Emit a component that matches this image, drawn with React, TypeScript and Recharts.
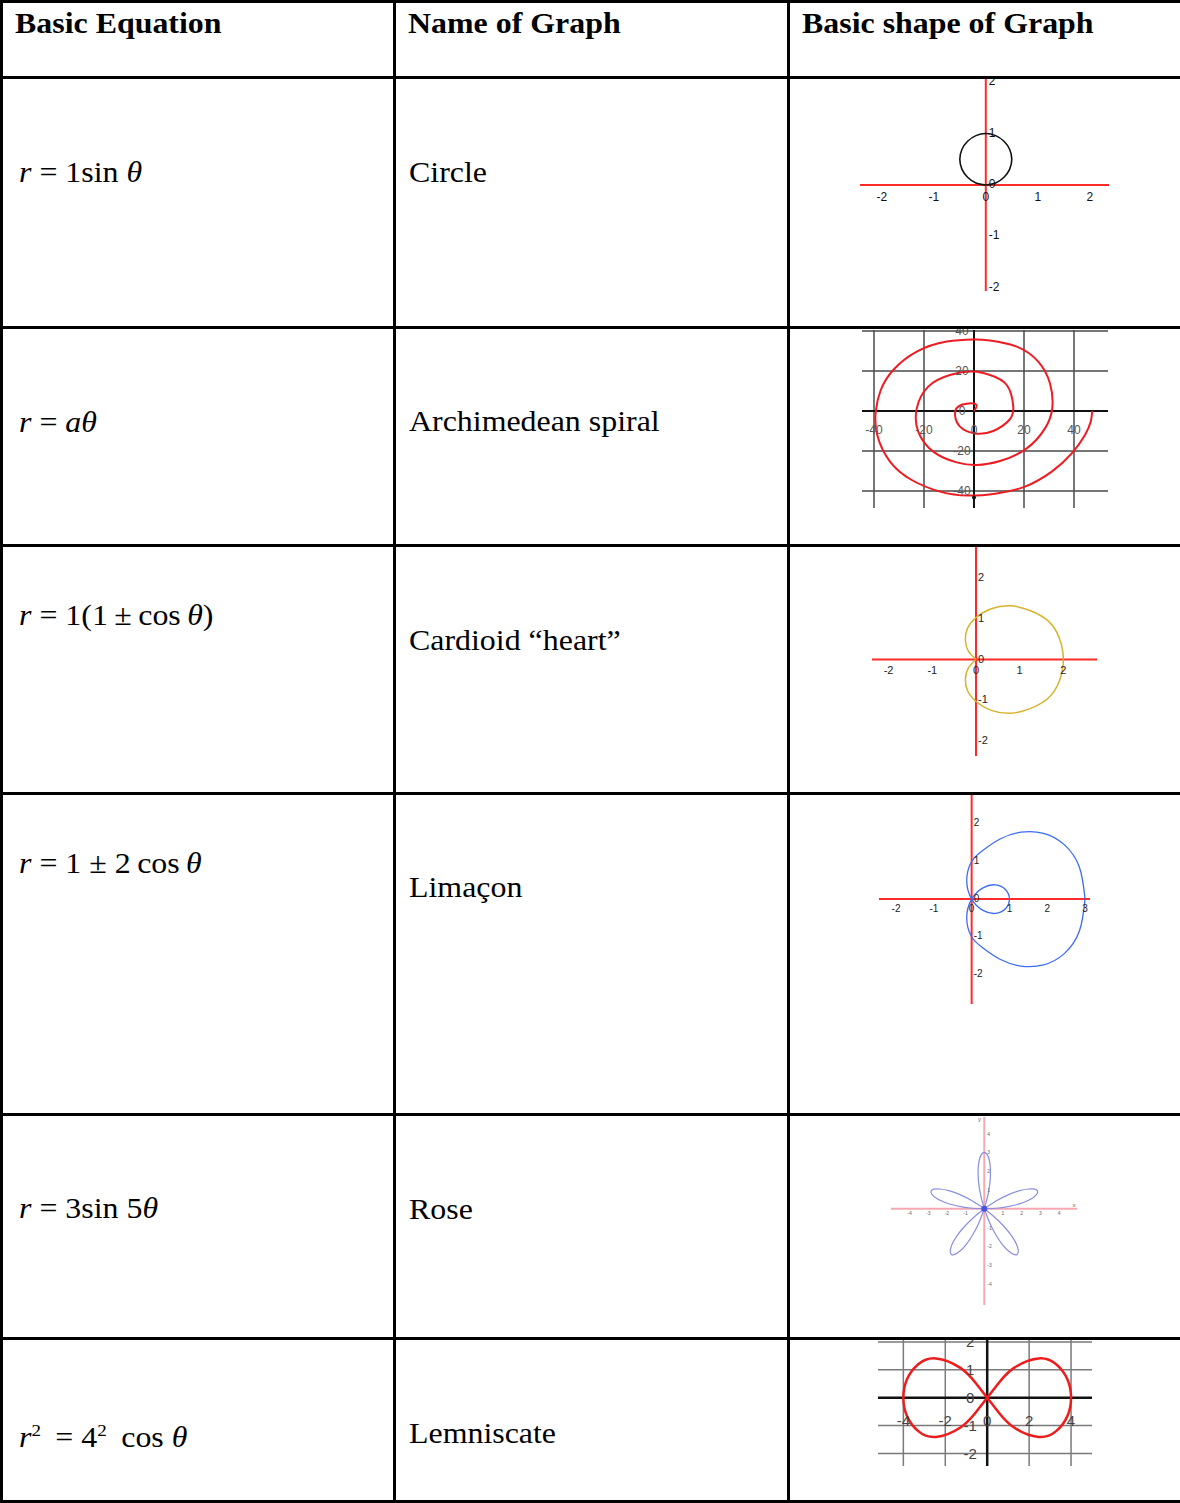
import React from 'react'
import { ComposedChart, Line, Scatter, XAxis, YAxis, ReferenceLine, ReferenceDot } from 'recharts'

// ---- table text ----
const headers = ['Basic Equation', 'Name of Graph', 'Basic shape of Graph']
const equations = [
  'r = 1sin θ',
  'r = aθ',
  'r = 1(1\u2009±\u2009cos\u2009θ)',
  'r = 1 ± 2\u2009cos\u2009θ',
  'r = 3sin 5θ',
  'r^2\u2009 = 4^2\u2009 cos θ',
]
const graphNames = ['Circle', 'Archimedean spiral', 'Cardioid “heart”', 'Limaçon', 'Rose', 'Lemniscate']

// ---- curves (x, y in plot units) ----
const circlePts = [
  { x: 0, y: 0 }, { x: 0.19, y: 0.04 }, { x: 0.35, y: 0.15 }, { x: 0.46, y: 0.31 }, { x: 0.5, y: 0.5 },
  { x: 0.46, y: 0.69 }, { x: 0.35, y: 0.85 }, { x: 0.19, y: 0.96 }, { x: 0, y: 1 }, { x: -0.19, y: 0.96 },
  { x: -0.35, y: 0.85 }, { x: -0.46, y: 0.69 }, { x: -0.5, y: 0.5 }, { x: -0.46, y: 0.31 }, { x: -0.35, y: 0.15 },
  { x: -0.19, y: 0.04 }, { x: 0, y: 0 },
]

const spiralPts = [
  { x: 0, y: 0 }, { x: 1, y: 3 }, { x: -2.3, y: 3.8 }, { x: -6.3, y: 2.2 }, { x: -7.6, y: -1.7 },
  { x: -5.6, y: -7.8 }, { x: 0.4, y: -11.2 }, { x: 7.7, y: -10 }, { x: 14.1, y: -4.5 }, { x: 15.7, y: 2.2 },
  { x: 13.1, y: 13 }, { x: 6.4, y: 18 }, { x: -0.3, y: 19.7 }, { x: -9.6, y: 18 }, { x: -18.3, y: 12.2 },
  { x: -22.9, y: 1.3 }, { x: -22.3, y: -10.3 }, { x: -16.3, y: -20.3 }, { x: -6.9, y: -25.7 }, { x: 1.1, y: -27 },
  { x: 10.4, y: -25 }, { x: 21.1, y: -18.7 }, { x: 28.4, y: -8.7 }, { x: 31.3, y: 1.3 }, { x: 30.4, y: 13.8 },
  { x: 25.7, y: 24.7 }, { x: 17.1, y: 32.2 }, { x: 6.4, y: 35.3 }, { x: -0.3, y: 35.8 }, { x: -10.9, y: 34.7 },
  { x: -22.9, y: 29.7 }, { x: -32.3, y: 20.5 }, { x: -37.3, y: 10.5 }, { x: -39.3, y: -0.3 }, { x: -38.7, y: -12 },
  { x: -33.6, y: -25.3 }, { x: -24.9, y: -34.5 }, { x: -13.6, y: -40.3 }, { x: -2.3, y: -42.3 }, { x: 9.1, y: -41.2 },
  { x: 20.4, y: -37.8 }, { x: 31.1, y: -30.3 }, { x: 39.1, y: -21.2 }, { x: 44.4, y: -12 }, { x: 46.7, y: -5.3 },
  { x: 47.3, y: 0 },
]

const cardioidPts = [
  { x: 0, y: 0 }, { x: -0.17, y: 0.2 }, { x: -0.24, y: 0.45 }, { x: -0.2, y: 0.75 }, { x: 0, y: 1.03 },
  { x: 0.35, y: 1.25 }, { x: 0.8, y: 1.32 }, { x: 1.25, y: 1.2 }, { x: 1.65, y: 0.95 }, { x: 1.9, y: 0.55 },
  { x: 2, y: 0 }, { x: 1.9, y: -0.55 }, { x: 1.65, y: -0.95 }, { x: 1.25, y: -1.2 }, { x: 0.8, y: -1.32 },
  { x: 0.35, y: -1.25 }, { x: 0, y: -1.03 }, { x: -0.2, y: -0.75 }, { x: -0.24, y: -0.45 }, { x: -0.17, y: -0.2 },
  { x: 0, y: 0 },
]

const limaconPts = [
  { x: 3, y: 0 }, { x: 2.85, y: 0.85 }, { x: 2.45, y: 1.45 }, { x: 1.9, y: 1.75 }, { x: 1.3, y: 1.78 },
  { x: 0.75, y: 1.6 }, { x: 0.3, y: 1.3 }, { x: 0, y: 1 }, { x: -0.13, y: 0.5 }, { x: 0, y: 0 },
  { x: 0.3, y: -0.3 }, { x: 0.63, y: -0.38 }, { x: 0.9, y: -0.25 }, { x: 1, y: 0 }, { x: 0.9, y: 0.25 },
  { x: 0.63, y: 0.38 }, { x: 0.3, y: 0.3 }, { x: 0, y: 0 }, { x: -0.13, y: -0.5 }, { x: 0, y: -1 },
  { x: 0.3, y: -1.3 }, { x: 0.75, y: -1.6 }, { x: 1.3, y: -1.78 }, { x: 1.9, y: -1.75 }, { x: 2.45, y: -1.45 },
  { x: 2.85, y: -0.85 }, { x: 3, y: 0 },
]

const rosePetalTop = [
  { x: 0, y: 0 }, { x: -0.2, y: 0.75 }, { x: -0.31, y: 1.47 }, { x: -0.33, y: 2.09 }, { x: -0.27, y: 2.58 },
  { x: -0.15, y: 2.89 }, { x: 0, y: 3 }, { x: 0.15, y: 2.89 }, { x: 0.27, y: 2.58 }, { x: 0.33, y: 2.09 },
  { x: 0.31, y: 1.47 }, { x: 0.2, y: 0.75 }, { x: 0, y: 0 },
]
const rosePetalRight = [
  { x: 0, y: 0 }, { x: 0.65, y: 0.42 }, { x: 1.3, y: 0.75 }, { x: 1.89, y: 0.96 }, { x: 2.37, y: 1.05 },
  { x: 2.7, y: 1.04 }, { x: 2.85, y: 0.93 }, { x: 2.79, y: 0.75 }, { x: 2.54, y: 0.54 }, { x: 2.09, y: 0.33 },
  { x: 1.49, y: 0.16 }, { x: 0.78, y: 0.04 }, { x: 0, y: 0 },
]
const rosePetalLeft = [
  { x: 0, y: 0 }, { x: -0.65, y: 0.42 }, { x: -1.3, y: 0.75 }, { x: -1.89, y: 0.96 }, { x: -2.37, y: 1.05 },
  { x: -2.7, y: 1.04 }, { x: -2.85, y: 0.93 }, { x: -2.79, y: 0.75 }, { x: -2.54, y: 0.54 }, { x: -2.09, y: 0.33 },
  { x: -1.49, y: 0.16 }, { x: -0.78, y: 0.04 }, { x: 0, y: 0 },
]
const rosePetalLowRight = [
  { x: 0, y: 0 }, { x: 0.6, y: -0.49 }, { x: 1.12, y: -1.01 }, { x: 1.5, y: -1.5 }, { x: 1.74, y: -1.93 },
  { x: 1.82, y: -2.25 }, { x: 1.76, y: -2.43 }, { x: 1.58, y: -2.43 }, { x: 1.3, y: -2.25 }, { x: 0.96, y: -1.89 },
  { x: 0.61, y: -1.37 }, { x: 0.28, y: -0.73 }, { x: 0, y: 0 },
]
const rosePetalLowLeft = [
  { x: 0, y: 0 }, { x: -0.6, y: -0.49 }, { x: -1.12, y: -1.01 }, { x: -1.5, y: -1.5 }, { x: -1.74, y: -1.93 },
  { x: -1.82, y: -2.25 }, { x: -1.76, y: -2.43 }, { x: -1.58, y: -2.43 }, { x: -1.3, y: -2.25 }, { x: -0.96, y: -1.89 },
  { x: -0.61, y: -1.37 }, { x: -0.28, y: -0.73 }, { x: 0, y: 0 },
]

const lemniscatePts = [
  { x: 0, y: 0 }, { x: 0.54, y: 0.52 }, { x: 1.28, y: 1.07 }, { x: 2.45, y: 1.41 }, { x: 3.29, y: 1.2 },
  { x: 3.82, y: 0.67 }, { x: 4, y: 0 }, { x: 3.82, y: -0.67 }, { x: 3.29, y: -1.2 }, { x: 2.45, y: -1.41 },
  { x: 1.28, y: -1.07 }, { x: 0.54, y: -0.52 }, { x: 0, y: 0 }, { x: -0.54, y: 0.52 }, { x: -1.28, y: 1.07 },
  { x: -2.45, y: 1.41 }, { x: -3.29, y: 1.2 }, { x: -3.82, y: 0.67 }, { x: -4, y: 0 }, { x: -3.82, y: -0.67 },
  { x: -3.29, y: -1.2 }, { x: -2.45, y: -1.41 }, { x: -1.28, y: -1.07 }, { x: -0.54, y: -0.52 }, { x: 0, y: 0 },
]

// ---- tick labels ----
const circleXTicks = [-2, -1, 0, 1, 2]
const circleYTicks = [2, 1, 0, -1, -2]
const spiralGrid = [-40, -20, 20, 40]
const spiralTicks = [-40, -20, 0, 20, 40]
const cardioidXTicks = [-2, -1, 0, 1, 2]
const cardioidYTicks = [2, 1, 0, -1, -2]
const limaconXTicks = [-2, -1, 0, 1, 2, 3]
const limaconYTicks = [2, 1, 0, -1, -2]
const roseXTicks = [-4, -3, -2, -1, 1, 2, 3, 4]
const roseYTicks = [4, 3, 2, 1, -1, -2, -3, -4]
const lemXGrid = [-4, -2, 2, 4]
const lemYGrid = [2, 1, -1, -2]
const lemXTicks = [-4, -2, 0, 2, 4]
const lemYTicks = [2, 1, 0, -1, -2]

const SERIF = "'Liberation Serif', 'Times New Roman', serif"
const SANS = "'Liberation Sans', Arial, sans-serif"

type Pt = { x: number; y: number }
type Curve = { data: Pt[]; color: string; width: number }
type LabelStyle = { dx: number; dy: number; anchor: 'start' | 'middle' | 'end'; size: number; color: string }

const makeLabel = (s: LabelStyle) => (p: any) => (
  <text
    x={p.cx + s.dx}
    y={p.cy + s.dy}
    textAnchor={s.anchor}
    dominantBaseline="central"
    fontSize={s.size}
    fill={s.color}
    fontFamily={SANS}
  >
    {p.payload.label}
  </text>
)

interface PanelProps {
  left: number
  top: number
  width: number
  height: number
  xDomain: [number, number]
  yDomain: [number, number]
  gridX?: number[]
  gridY?: number[]
  gridColor?: string
  gridWidth?: number
  axisColor: string
  axisWidth: number
  curves: Curve[]
  xTicks: number[]
  yTicks: number[]
  xStyle: LabelStyle
  yStyle: LabelStyle
  extra?: { x: number; y: number; label: string }[]
  extraStyle?: LabelStyle
  children?: React.ReactNode
}

function Panel(p: PanelProps) {
  const xLabels = p.xTicks.map((v) => ({ x: v, y: 0, label: String(v) }))
  const yLabels = p.yTicks.map((v) => ({ x: 0, y: v, label: String(v) }))
  return (
    <div style={{ position: 'absolute', left: p.left, top: p.top }}>
      <ComposedChart width={p.width} height={p.height} margin={{ top: 0, right: 0, bottom: 0, left: 0 }}>
        <XAxis type="number" dataKey="x" domain={p.xDomain} hide allowDataOverflow />
        <YAxis type="number" dataKey="y" domain={p.yDomain} hide allowDataOverflow />
        {(p.gridX || []).map((v) => (
          <ReferenceLine key={'gx' + v} x={v} stroke={p.gridColor} strokeWidth={p.gridWidth} />
        ))}
        {(p.gridY || []).map((v) => (
          <ReferenceLine key={'gy' + v} y={v} stroke={p.gridColor} strokeWidth={p.gridWidth} />
        ))}
        <ReferenceLine x={0} stroke={p.axisColor} strokeWidth={p.axisWidth} />
        <ReferenceLine y={0} stroke={p.axisColor} strokeWidth={p.axisWidth} />
        <Scatter data={xLabels} shape={makeLabel(p.xStyle)} isAnimationActive={false} />
        <Scatter data={yLabels} shape={makeLabel(p.yStyle)} isAnimationActive={false} />
        {p.extra && p.extraStyle && (
          <Scatter data={p.extra} shape={makeLabel(p.extraStyle)} isAnimationActive={false} />
        )}
        {p.curves.map((c, i) => (
          <Line
            key={i}
            data={c.data}
            dataKey="y"
            type="natural"
            stroke={c.color}
            strokeWidth={c.width}
            dot={false}
            activeDot={false}
            isAnimationActive={false}
          />
        ))}
        {p.children}
      </ComposedChart>
    </div>
  )
}

function renderEquation(eq: string) {
  const out: React.ReactNode[] = []
  for (let i = 0; i < eq.length; i++) {
    const c = eq[i]
    if (c === '^') {
      out.push(
        <span key={i} style={{ fontSize: '0.6em', verticalAlign: '0.62em', lineHeight: 0 }}>
          {eq[i + 1]}
        </span>
      )
      i++
    } else if (c === 'r' || c === 'a' || c === 'θ') {
      out.push(<i key={i}>{c}</i>)
    } else {
      out.push(c)
    }
  }
  return out
}

const FS = 29
function TextAt({ x, baseline, bold, children }: { x: number; baseline: number; bold?: boolean; children: React.ReactNode }) {
  return (
    <div
      style={{
        position: 'absolute',
        left: x,
        top: baseline - 0.8375 * FS,
        fontSize: FS,
        lineHeight: FS + 'px',
        fontFamily: SERIF,
        fontWeight: bold ? 700 : 400,
        whiteSpace: 'nowrap',
        transform: 'scaleX(1.1)',
        transformOrigin: 'left top',
        color: '#000',
      }}
    >
      {children}
    </div>
  )
}

const hLines = [0, 76, 326, 544, 792, 1113, 1337, 1500]
const vLines = [0, 393, 787]
const headerX = [15, 408, 802]
const eqBaselines = [182, 432, 625, 873, 1218, 1447]
const nameBaselines = [182, 431, 650, 897, 1219, 1443]

export default function App() {
  return (
    <div style={{ position: 'absolute', left: 0, top: 0, width: 1180, height: 1503, background: '#fff', overflow: 'hidden' }}>
      <style>{'.recharts-surface{overflow:visible}.recharts-scatter{clip-path:none !important}'}</style>
      {headers.map((h, i) => (
        <TextAt key={h} x={headerX[i]} baseline={33} bold>
          {h}
        </TextAt>
      ))}
      {equations.map((e, i) => (
        <TextAt key={e} x={19} baseline={eqBaselines[i]}>
          {renderEquation(e)}
        </TextAt>
      ))}
      {graphNames.map((n, i) => (
        <TextAt key={n} x={409} baseline={nameBaselines[i]}>
          {n}
        </TextAt>
      ))}

      {/* circle */}
      <Panel
        left={860}
        top={78}
        width={249}
        height={213}
        xDomain={[-2.42, 2.37]}
        yDomain={[-2.06, 2.08]}
        axisColor="#ff2a2a"
        axisWidth={2}
        curves={[{ data: circlePts, color: '#111', width: 1.6 }]}
        xTicks={circleXTicks}
        yTicks={circleYTicks}
        xStyle={{ dx: 0, dy: 12, anchor: 'middle', size: 12, color: '#111' }}
        yStyle={{ dx: 3, dy: -1, anchor: 'start', size: 12, color: '#111' }}
      />

      {/* spiral */}
      <Panel
        left={862}
        top={330}
        width={246}
        height={178}
        xDomain={[-44.8, 53.6]}
        yDomain={[-48.5, 40.5]}
        gridX={spiralGrid}
        gridY={spiralGrid}
        gridColor="#4a4a4a"
        gridWidth={1.5}
        axisColor="#111"
        axisWidth={2}
        curves={[{ data: spiralPts, color: '#ee1c22', width: 2 }]}
        xTicks={spiralTicks}
        yTicks={spiralTicks}
        xStyle={{ dx: 0, dy: 19, anchor: 'middle', size: 12, color: '#555' }}
        yStyle={{ dx: -12, dy: 0, anchor: 'middle', size: 12, color: '#555' }}
      >
        <ReferenceDot x={0} y={-43.3} r={2} fill="#111" stroke="none" />
      </Panel>

      {/* cardioid */}
      <Panel
        left={872}
        top={546}
        width={225}
        height={210}
        xDomain={[-2.38, 2.77]}
        yDomain={[-2.37, 2.79]}
        axisColor="#ff2a2a"
        axisWidth={2}
        curves={[{ data: cardioidPts, color: '#d6b32c', width: 1.5 }]}
        xTicks={cardioidXTicks}
        yTicks={cardioidYTicks}
        xStyle={{ dx: 0, dy: 10, anchor: 'middle', size: 11, color: '#222' }}
        yStyle={{ dx: 2, dy: -1, anchor: 'start', size: 11, color: '#222' }}
      />

      {/* limacon */}
      <Panel
        left={879}
        top={795}
        width={211}
        height={209}
        xDomain={[-2.45, 3.13]}
        yDomain={[-2.79, 2.77]}
        axisColor="#ff2a2a"
        axisWidth={2}
        curves={[{ data: limaconPts, color: '#3d6cf2', width: 1.3 }]}
        xTicks={limaconXTicks}
        yTicks={limaconYTicks}
        xStyle={{ dx: 0, dy: 9, anchor: 'middle', size: 10, color: '#222' }}
        yStyle={{ dx: 2, dy: -1, anchor: 'start', size: 10, color: '#222' }}
      />

      {/* rose */}
      <Panel
        left={891}
        top={1117}
        width={186}
        height={188}
        xDomain={[-4.99, 4.96]}
        yDomain={[-5.12, 4.88]}
        axisColor="#f6a9b0"
        axisWidth={2}
        curves={[
          { data: rosePetalTop, color: '#8a8fe2', width: 1.2 },
          { data: rosePetalRight, color: '#8a8fe2', width: 1.2 },
          { data: rosePetalLeft, color: '#8a8fe2', width: 1.2 },
          { data: rosePetalLowRight, color: '#8a8fe2', width: 1.2 },
          { data: rosePetalLowLeft, color: '#8a8fe2', width: 1.2 },
        ]}
        xTicks={roseXTicks}
        yTicks={roseYTicks}
        xStyle={{ dx: 0, dy: 4, anchor: 'middle', size: 5, color: '#666' }}
        yStyle={{ dx: 3, dy: 0, anchor: 'start', size: 5, color: '#666' }}
        extra={[
          { x: 4.8, y: 0.2, label: 'x' },
          { x: -0.25, y: 4.75, label: 'y' },
        ]}
        extraStyle={{ dx: 0, dy: 0, anchor: 'middle', size: 6, color: '#666' }}
      >
        <ReferenceDot x={0} y={0} r={3} fill="#4a52e6" stroke="none" />
      </Panel>

      {/* lemniscate */}
      <Panel
        left={878}
        top={1340}
        width={214}
        height={126}
        xDomain={[-5.21, 5.0]}
        yDomain={[-2.45, 2.07]}
        gridX={lemXGrid}
        gridY={lemYGrid}
        gridColor="#7a7a7a"
        gridWidth={1.5}
        axisColor="#111"
        axisWidth={2.5}
        curves={[{ data: lemniscatePts, color: '#ee1c1c', width: 2.5 }]}
        xTicks={lemXTicks}
        yTicks={lemYTicks}
        xStyle={{ dx: 0, dy: 23, anchor: 'middle', size: 15, color: '#444' }}
        yStyle={{ dx: -17, dy: 0, anchor: 'middle', size: 15, color: '#444' }}
      />

      {hLines.map((y) => (
        <div key={'h' + y} style={{ position: 'absolute', left: 0, top: y, width: 1180, height: 3, background: '#000' }} />
      ))}
      {vLines.map((x) => (
        <div key={'v' + x} style={{ position: 'absolute', left: x, top: 0, width: 3, height: 1503, background: '#000' }} />
      ))}
    </div>
  )
}
